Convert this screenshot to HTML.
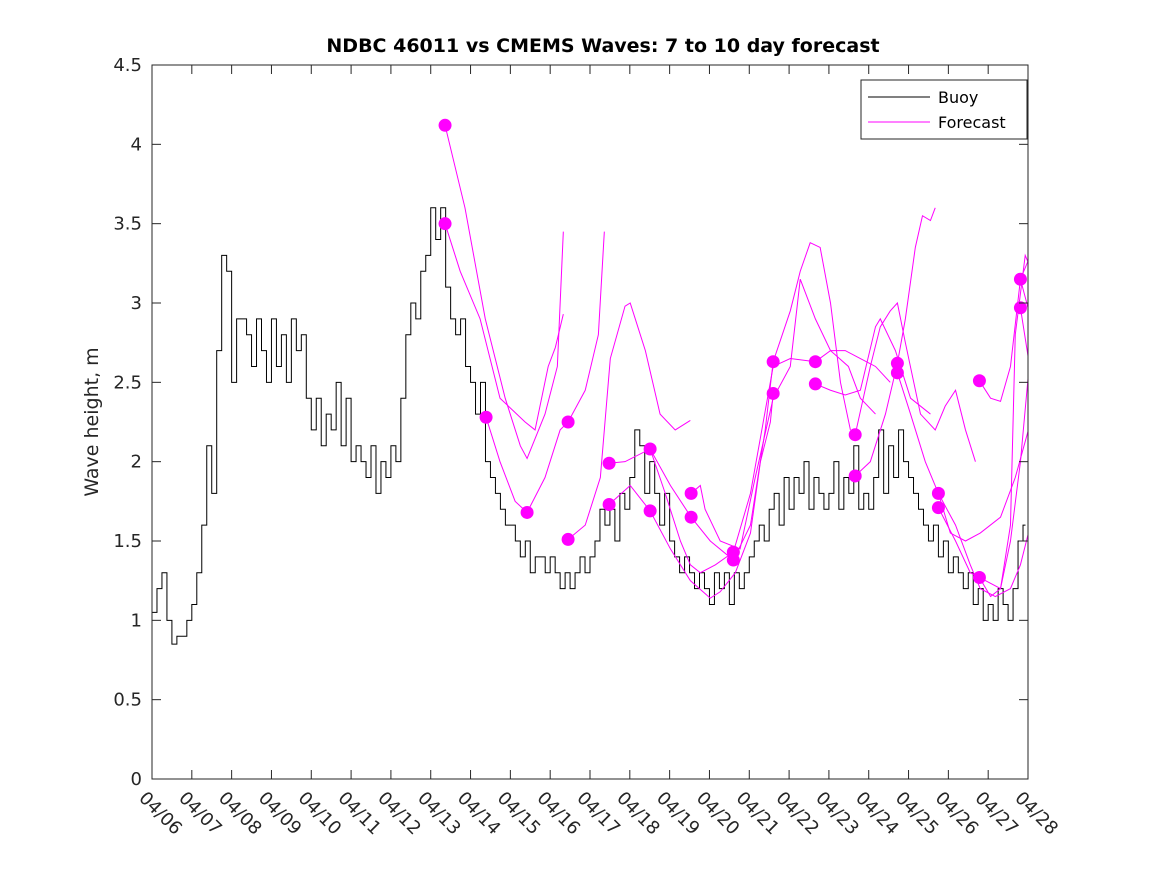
<!DOCTYPE html>
<html><head><meta charset="utf-8"><style>
body{margin:0;background:#fff;}
svg text{font-family:"DejaVu Sans","Liberation Sans",sans-serif;}
</style></head><body>
<svg id="chart" width="1167" height="875" xmlns="http://www.w3.org/2000/svg">
<defs><clipPath id="clip"><rect x="152" y="65" width="876" height="714"/></clipPath></defs>
<rect x="0" y="0" width="1167" height="875" fill="#fff"/>
<rect x="152" y="65" width="876" height="714" fill="#fff" stroke="none"/>
<g id="series" clip-path="url(#clip)"></g>
<rect x="152" y="65" width="876" height="714" fill="none" stroke="#262626" stroke-width="1"/>
<g id="ticks"></g>
<text x="603" y="52" text-anchor="middle" font-size="19" font-weight="bold" fill="#000">NDBC 46011 vs CMEMS Waves: 7 to 10 day forecast</text>
<text transform="translate(98,422) rotate(-90)" text-anchor="middle" font-size="19" fill="#262626">Wave height, m</text>
<g>
<rect x="861" y="80" width="166" height="59" fill="#fff" stroke="#262626" stroke-width="1"/>
<line x1="868" y1="97" x2="930" y2="97" stroke="#000" stroke-width="1"/>
<text x="938" y="103" font-size="16" fill="#000">Buoy</text>
<line x1="868" y1="122" x2="930" y2="122" stroke="#ff00ff" stroke-width="1"/>
<text x="938" y="128" font-size="16" fill="#000">Forecast</text>
</g>
</svg>
<script>
const xTickLabels=["04/06","04/07","04/08","04/09","04/10","04/11","04/12","04/13","04/14","04/15","04/16","04/17","04/18","04/19","04/20","04/21","04/22","04/23","04/24","04/25","04/26","04/27","04/28"];
const yTickValues=[0,0.5,1,1.5,2,2.5,3,3.5,4,4.5];
const yTickLabels=["0","0.5","1","1.5","2","2.5","3","3.5","4","4.5"];
const buoyStep=0.125;
const buoyValues=[1.05,1.2,1.3,1.0,0.85,0.9,0.9,1.0,
1.1,1.3,1.6,2.1,1.8,2.7,3.3,3.2,
2.5,2.9,2.9,2.8,2.6,2.9,2.7,2.5,
2.9,2.6,2.8,2.5,2.9,2.7,2.8,2.4,
2.2,2.4,2.1,2.3,2.2,2.5,2.1,2.4,
2.0,2.1,2.0,1.9,2.1,1.8,2.0,1.9,
2.1,2.0,2.4,2.8,3.0,2.9,3.2,3.3,
3.6,3.4,3.6,3.1,2.9,2.8,2.9,2.6,
2.5,2.3,2.5,2.0,1.9,1.8,1.7,1.6,
1.6,1.5,1.4,1.5,1.3,1.4,1.4,1.3,
1.4,1.3,1.2,1.3,1.2,1.3,1.4,1.3,
1.4,1.5,1.7,1.6,1.7,1.5,1.8,1.7,
1.9,2.2,2.1,1.8,2.0,1.8,1.6,1.8,
1.5,1.4,1.3,1.4,1.3,1.2,1.3,1.2,
1.1,1.3,1.2,1.3,1.1,1.3,1.2,1.3,
1.4,1.5,1.6,1.5,1.7,1.8,1.6,1.9,
1.7,1.9,1.8,2.0,1.7,1.9,1.8,1.7,
1.8,2.0,1.7,1.9,1.8,2.1,1.7,1.8,
1.7,1.9,2.2,1.8,2.1,1.9,2.2,2.0,
1.9,1.8,1.7,1.6,1.5,1.6,1.4,1.5,
1.3,1.4,1.3,1.2,1.3,1.1,1.2,1.0,
1.1,1.0,1.2,1.1,1.0,1.2,1.5,1.6];
const fcDays=[
[7.36,7.86,8.37,8.87,9.25,9.42,9.87,10.18,10.33],
[7.36,7.74,8.24,8.74,9.37,9.62,9.95,10.13,10.33],
[8.39,8.74,9.12,9.42,9.87,10.25,10.45,10.88,11.21,11.36],
[10.45,10.88,11.26,11.51,11.88,12.01,12.39,12.76,13.14,13.52],
[11.48,11.88,12.51,12.89,13.27,13.52,13.77,14.15,14.6],
[11.48,12.01,12.51,13.02,13.52,14.02,14.27,14.65,15.03,15.28,15.53,15.6],
[12.51,13.02,13.54,14.02,14.6,15.03,15.4,15.6,16.03,16.28,16.53,16.78,17.04,17.29,17.54],
[13.54,13.77,13.89,14.27,14.77,15.15,15.6,16.03,16.28,16.66,17.04,17.49,17.79,18.17],
[14.6,15.03,15.6,16.03,16.66,17.04,17.41,17.79,18.17,18.54],
[16.66,17.04,17.41,17.79,18.17,18.29,18.67,19.05,19.55],
[17.66,18.04,18.29,18.54,18.72,18.92,19.3,19.67,19.92,20.18,20.43,20.68],
[17.66,18.04,18.42,18.72,18.92,19.17,19.35,19.55,19.67],
[18.72,19.05,19.42,19.75,20.18,20.55,20.8,21.18,21.56,21.81,22.01],
[19.75,20.18,20.55,20.78,21.06,21.31,21.56,21.81,22.01],
[19.75,20.05,20.43,20.8,21.31,21.68,22.01],
[20.78,21.06,21.31,21.56,21.81,22.06],
[20.78,21.31,21.56,21.68,21.93,22.1],
[21.81,22.18],
[21.81,22.01]];
const fcVals=[
[4.12,3.6,2.9,2.4,2.1,2.02,2.3,2.6,3.45],
[3.5,3.2,2.9,2.4,2.25,2.2,2.6,2.72,2.93],
[2.28,2.0,1.75,1.68,1.9,2.2,2.25,2.45,2.8,3.45],
[1.51,1.6,1.9,2.65,2.98,3.0,2.7,2.3,2.2,2.26],
[1.99,2.0,2.08,1.8,1.5,1.35,1.3,1.35,1.43],
[1.73,1.85,1.69,1.45,1.25,1.14,1.18,1.3,1.55,2.0,2.25,2.43],
[2.08,1.85,1.65,1.5,1.38,1.6,2.2,2.63,2.95,3.2,3.38,3.35,3.0,2.5,2.2],
[1.8,1.85,1.7,1.5,1.45,1.9,2.4,2.6,3.15,2.9,2.7,2.6,2.4,2.3],
[1.43,1.8,2.6,2.65,2.63,2.7,2.7,2.65,2.6,2.5],
[2.49,2.45,2.42,2.45,2.85,2.9,2.7,2.4,2.3],
[2.17,2.6,2.85,2.95,3.0,2.75,2.3,2.2,2.35,2.45,2.2,2.0],
[1.91,2.0,2.3,2.62,2.9,3.35,3.55,3.52,3.6],
[2.56,2.3,2.0,1.8,1.6,1.35,1.2,1.15,1.2,1.35,1.55],
[1.71,1.5,1.3,1.27,1.15,1.2,1.5,2.0,2.55],
[1.8,1.55,1.5,1.55,1.65,1.9,2.2],
[2.51,2.4,2.38,2.6,3.15,3.3],
[1.27,1.2,1.6,2.8,3.3,3.2],
[3.15,2.8],
[2.97,2.65]];
const dotDays=[7.36,7.36,8.39,9.42,10.45,10.45,11.48,11.48,12.51,12.51,13.54,13.54,14.6,14.6,15.6,15.6,16.66,16.66,17.66,17.66,18.72,18.72,19.75,19.75,20.78,20.78,21.81,21.81];
const dotVals=[4.12,3.5,2.28,1.68,2.25,1.51,1.99,1.73,2.08,1.69,1.80,1.65,1.43,1.38,2.63,2.43,2.63,2.49,2.17,1.91,2.62,2.56,1.80,1.71,1.27,2.51,3.15,2.97];

const X0=152,X1=1028,Y0=779,Y1=65;
const xs=d=>X0+(X1-X0)*d/22;
const ys=v=>Y0-(Y0-Y1)*v/4.5;
const NS="http://www.w3.org/2000/svg";
const mk=(t,a)=>{const e=document.createElementNS(NS,t);for(const k in a)e.setAttribute(k,a[k]);return e;};
const ticks=document.getElementById('ticks'),series=document.getElementById('series');
xTickLabels.forEach((lab,i)=>{
  const x=xs(i);
  const l1=mk('line',{x1:x,y1:Y0,x2:x,y2:Y0-9,stroke:'#262626'});
  
  
  ticks.appendChild(l1);
  const l2=mk('line',{x1:x,y1:Y1,x2:x,y2:Y1+9,stroke:'#262626'});
  
  
  ticks.appendChild(l2);
  const t=mk('text',{x:x-14,y:Y0+20,'font-size':18,fill:'#262626',transform:`rotate(45 ${x-14} ${Y0+20})`});
  t.textContent=lab;
  
  
  ticks.appendChild(t);
});
yTickValues.forEach((v,i)=>{
  const y=ys(v);
  const l1=mk('line',{x1:X0,y1:y,x2:X0+9,y2:y,stroke:'#262626'});
  
  
  ticks.appendChild(l1);
  const l2=mk('line',{x1:X1,y1:y,x2:X1-9,y2:y,stroke:'#262626'});
  
  
  ticks.appendChild(l2);
  const t=mk('text',{x:X0-10,y:y+6,'font-size':18,fill:'#262626','text-anchor':'end'});
  t.textContent=yTickLabels[i];
  
  
  ticks.appendChild(t);
});
let d='';
buoyValues.forEach((v,i)=>{
  const x=xs(i*buoyStep),y=ys(v);
  if(i===0)d+=`M${x},${y}`;else d+=`H${x}V${y}`;
});
d+=`H${xs((buoyValues.length-0.5)*buoyStep)}`;
const bp=mk('path',{d:d,fill:'none',stroke:'#000','stroke-width':1});


series.appendChild(bp);
fcDays.forEach((days,k)=>{
  const pts=days.map((dd,i)=>`${xs(dd)},${ys(fcVals[k][i])}`).join(' ');
  const pl=mk('polyline',{points:pts,fill:'none',stroke:'#ff00ff','stroke-width':1});
  
  
  series.appendChild(pl);
});
dotDays.forEach((dd,i)=>{
  const c=mk('circle',{cx:xs(dd),cy:ys(dotVals[i]),r:6.5,fill:'#ff00ff'});
  
  
  series.appendChild(c);
});
</script>
</body></html>
